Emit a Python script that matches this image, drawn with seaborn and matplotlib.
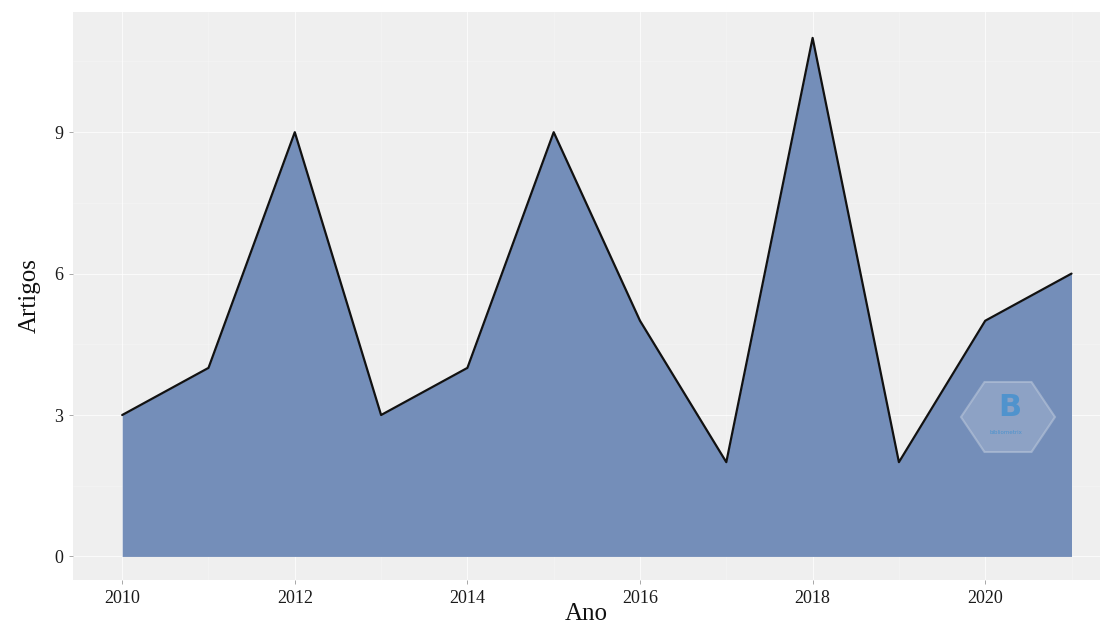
import matplotlib.pyplot as plt
import numpy as np
import pandas as pd
import seaborn as sns
from matplotlib.patches import Polygon

# dados
anos = [2010, 2011, 2012, 2013, 2014, 2015, 2016, 2017, 2018, 2019, 2020, 2021]
artigos = [3, 4, 9, 3, 4, 9, 5, 2, 11, 2, 5, 6]
y_ticks = [0, 3, 6, 9]
x_ticks = [2010, 2012, 2014, 2016, 2018, 2020]

df = pd.DataFrame({'Ano': anos, 'Artigos': artigos})

sns.set_theme(style="darkgrid", rc={
    'axes.facecolor': '#EFEFEF',
    'grid.color': 'white',
    'grid.linewidth': 0.8,
})
plt.rcParams['font.family'] = ['Liberation Serif', 'DejaVu Serif']

W, H = 1110, 630
fig = plt.figure(figsize=(W / 100, H / 100), dpi=100)
ax = fig.add_axes([73 / W, 50 / H, 1027 / W, 568 / H])

fill_color = '#748EB9'
ax.fill_between(df['Ano'], 0, df['Artigos'], color=fill_color, linewidth=0, zorder=2)
sns.lineplot(data=df, x='Ano', y='Artigos', color='#111111', linewidth=1.6, ax=ax, zorder=3)

# marca d'agua (logo), em pixels da figura
cx, cy, rx, ry = 1008, 417, 47, 35
hx = [cx - rx, cx - rx / 2, cx + rx / 2, cx + rx, cx + rx / 2, cx - rx / 2]
hy = [cy, cy - ry, cy - ry, cy, cy + ry, cy + ry]
hexa = Polygon(list(zip(np.array(hx) / W, 1 - np.array(hy) / H)), closed=True,
               transform=fig.transFigure, facecolor='#A3B4CF', edgecolor='#BDC9DC',
               alpha=0.55, linewidth=1.5, zorder=4)
ax.add_patch(hexa)
ax.text(1010 / W, 1 - 408 / H, 'B', transform=fig.transFigure, ha='center', va='center',
        fontsize=22, color='#3C8FD0', fontweight='bold', family=['DejaVu Sans'], alpha=0.75, zorder=5)
ax.text(1006 / W, 1 - 432 / H, 'bibliometrix', transform=fig.transFigure, ha='center', va='center',
        fontsize=4, color='#3C8FD0', family=['DejaVu Sans'], alpha=0.8, zorder=5)

ax.set_xlim(2009.43, 2021.33)
ax.set_ylim(-0.5, 11.55)
ax.set_xticks(x_ticks)
ax.set_yticks(y_ticks)
ax.set_xticks([2011, 2013, 2015, 2017, 2019, 2021], minor=True)
ax.set_yticks([1.5, 4.5, 7.5, 10.5], minor=True)
ax.grid(which='major', color='white', linewidth=0.8, alpha=0.7)
ax.grid(which='minor', color='white', linewidth=0.4, alpha=0.4)
ax.tick_params(axis='both', which='major', length=3, width=0.6, color='#999999',
               labelsize=13, labelcolor='#1A1A1A', bottom=True, left=True, pad=4)
ax.tick_params(axis='both', which='minor', length=0)
for s in ax.spines.values():
    s.set_visible(False)

ax.set_xlabel('Ano', fontsize=18, labelpad=-3, color='#111111')
ax.set_ylabel('Artigos', fontsize=18, labelpad=10, color='#111111')

fig.savefig('out.png', dpi=100)
